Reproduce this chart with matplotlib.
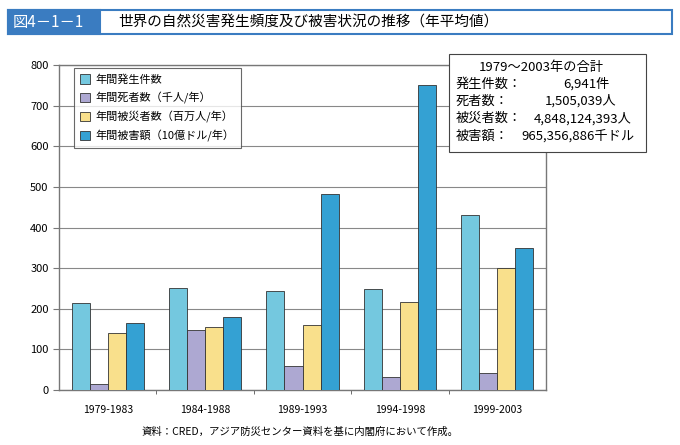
import matplotlib
matplotlib.use("Agg")
import matplotlib.pyplot as plt
from matplotlib.patches import Rectangle
import numpy as np

plt.rcParams['font.family'] = ['Noto Sans CJK JP', 'DejaVu Sans']

periods = ["1979-1983", "1984-1988", "1989-1993", "1994-1998", "1999-2003"]
series_names = ["年間発生件数", "年間死者数（千人/年）", "年間被災者数（百万人/年）", "年間被害額（10億ドル/年）"]
occurrences = [213, 251, 243, 248, 432]
deaths = [14, 147, 59, 31, 43]
affected = [140, 154, 160, 216, 300]
damage = [166, 180, 483, 750, 350]
colors = ["#74C8DF", "#ADA8D2", "#F9E08C", "#34A1D3"]

summary_title = "1979～2003年の合計"
summary_labels = ["発生件数：", "死者数：", "被災者数：", "被害額："]
summary_values = ["6,941件", "1,505,039人", "4,848,124,393人", "965,356,886千ドル"]

fig = plt.figure(figsize=(6.8, 4.45), dpi=100)

# pixel -> figure coords
W, H = 680, 445
def fx(px): return px / W
def fy(py): return 1 - py / H

# title bar
fig.patches.append(Rectangle((fx(8), fy(34)), fx(672) - fx(8), fy(10) - fy(34),
                             transform=fig.transFigure, facecolor="white",
                             edgecolor="#3A7CC1", lw=1.5))
fig.patches.append(Rectangle((fx(8), fy(34)), fx(100) - fx(8), fy(10) - fy(34),
                             transform=fig.transFigure, facecolor="#3A7CC1",
                             edgecolor="#3A7CC1", lw=1.5))
fig.text(fx(13), fy(22), "図4－1－1", color="white", fontsize=11, va="center", ha="left")
fig.text(fx(118), fy(22), "世界の自然災害発生頻度及び被害状況の推移（年平均値）",
         fontsize=10.5, va="center", ha="left")

ax = fig.add_axes([fx(59), fy(390), fx(546) - fx(59), fy(65) - fy(390)])
x = np.arange(len(periods))
w = 0.185
data = [occurrences, deaths, affected, damage]
for i, (vals, c, name) in enumerate(zip(data, colors, series_names)):
    ax.bar(x + (i - 1.5) * w, vals, w, color=c, edgecolor="#333333", lw=0.6, label=name, zorder=3)

ax.set_xlim(-0.5, len(periods) - 0.5)
ax.set_ylim(0, 800)
ax.set_yticks(range(0, 801, 100))
ax.yaxis.grid(True, color="#888888", lw=0.8, zorder=0)
ax.set_xticks(x)
ax.set_xticklabels(periods, fontsize=7.5)
ax.tick_params(axis="x", length=0, pad=11)
ax.set_xticks(np.arange(0.5, len(periods) - 0.5, 1), minor=True)
ax.tick_params(axis="x", which="minor", length=3, color="#555555")
ax.tick_params(axis="y", labelsize=8, length=4, color="#777777")
for s in ax.spines.values():
    s.set_color("#777777")
    s.set_linewidth(1.0)

leg = ax.legend(loc="upper left", bbox_to_anchor=(0.031, 0.99), fontsize=8, frameon=True,
                fancybox=False, handlelength=0.9, handleheight=0.9, handletextpad=0.5,
                borderpad=0.55, labelspacing=0.62, borderaxespad=0)
leg.get_frame().set_edgecolor("#444444")
leg.get_frame().set_linewidth(0.8)

# summary box
fig.patches.append(Rectangle((fx(449), fy(152)), fx(646) - fx(449), fy(54) - fy(152),
                             transform=fig.transFigure, facecolor="white",
                             edgecolor="#444444", lw=0.8, zorder=5))
fig.text(fx(541), fy(68), summary_title, fontsize=9.5, ha="center", va="center", zorder=6)
value_right = [610, 616, 632, 634]
for k, (lab, val) in enumerate(zip(summary_labels, summary_values)):
    yy = fy(84 + k * 17.3)
    fig.text(fx(456), yy, lab, fontsize=9.5, ha="left", va="center", zorder=6)
    fig.text(fx(value_right[k]), yy, val, fontsize=9.5, ha="right", va="center", zorder=6)

fig.text(fx(300), fy(432), "資料：CRED，アジア防災センター資料を基に内閣府において作成。",
         fontsize=7.5, ha="center", va="center")

fig.savefig("out.png", dpi=100)
